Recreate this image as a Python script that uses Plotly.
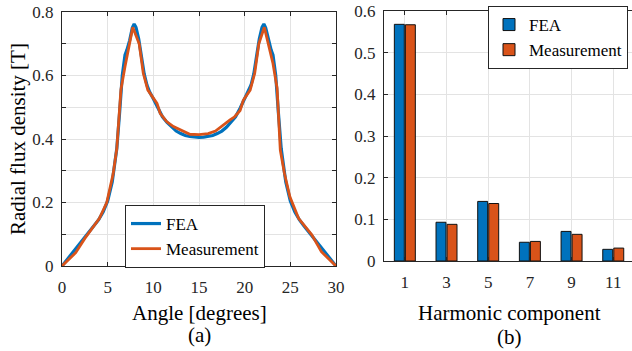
import plotly.graph_objects as go

# ---- Panel (a): radial flux density vs angle ----
fea_angle = [0, 0.5, 1.0, 1.5, 2.0, 2.5, 3.0, 3.5, 4.0, 4.5, 5.0, 5.5, 6.0, 6.3, 6.6, 6.9, 7.1, 7.4,
             7.7, 7.9, 8.1, 8.4, 8.7, 9.0, 9.3, 9.6, 10.0, 10.5, 11.0, 11.5, 12.0, 12.5, 13.0, 13.5,
             14.0, 14.5, 15.0, 15.5, 16.0, 16.5, 17.0, 17.5, 18.0, 18.5, 19.0, 19.5, 20.0, 20.4,
             20.7, 21.0, 21.3, 21.6, 21.9, 22.1, 22.3, 22.6, 22.9, 23.1, 23.4, 23.7, 24.0, 24.5,
             25.0, 25.5, 26.0, 26.5, 27.0, 27.5, 28.0, 28.5, 29.0, 29.5, 30.0]
fea_b = [0, 0.018, 0.036, 0.055, 0.075, 0.092, 0.108, 0.126, 0.145, 0.170, 0.205, 0.265, 0.370,
         0.480, 0.600, 0.665, 0.680, 0.710, 0.750, 0.762, 0.752, 0.715, 0.660, 0.605, 0.570, 0.548,
         0.527, 0.497, 0.470, 0.452, 0.437, 0.425, 0.417, 0.411, 0.408, 0.406, 0.405, 0.406, 0.408,
         0.411, 0.417, 0.425, 0.437, 0.452, 0.470, 0.497, 0.527, 0.548, 0.570, 0.605, 0.660, 0.715,
         0.752, 0.762, 0.750, 0.710, 0.680, 0.665, 0.600, 0.480, 0.370, 0.265, 0.205, 0.170, 0.145,
         0.126, 0.108, 0.092, 0.075, 0.055, 0.036, 0.018, 0]

meas_angle = [0, 1.5, 2.5, 4.1, 4.9, 5.6, 6.0, 6.2, 6.45, 6.9, 7.3, 7.75, 8.45, 8.9, 9.4, 10.0,
              10.4, 10.75, 11.45, 12.2, 13.3, 14.0, 15.0, 16.0, 16.8, 17.4, 18.4, 18.9, 19.5,
              19.85, 20.6, 21.1, 21.55, 22.15, 22.6, 23.1, 23.55, 23.75, 23.9, 24.35, 24.95, 25.9,
              27.35, 28.4, 30.0]
meas_b = [0, 0.042, 0.087, 0.150, 0.200, 0.290, 0.370, 0.440, 0.555, 0.628, 0.690, 0.752, 0.700,
          0.607, 0.554, 0.528, 0.512, 0.481, 0.455, 0.439, 0.423, 0.415, 0.414, 0.417, 0.425,
          0.439, 0.460, 0.470, 0.490, 0.522, 0.554, 0.607, 0.700, 0.752, 0.700, 0.638, 0.560,
          0.430, 0.365, 0.292, 0.218, 0.150, 0.098, 0.045, 0]

# ---- Panel (b): harmonic components ----
harmonics = [1, 3, 5, 7, 9, 11]
fea_harm = [0.568, 0.093, 0.143, 0.045, 0.071, 0.028]
meas_harm = [0.567, 0.088, 0.138, 0.047, 0.064, 0.031]

left_yticks = [0, 0.1, 0.2, 0.3, 0.4, 0.5, 0.6, 0.7, 0.8]
left_yticktext = ["0", "", "0.2", "", "0.4", "", "0.6", "", "0.8"]
left_xticks = [0, 5, 10, 15, 20, 25, 30]
right_yticks = [0, 0.1, 0.2, 0.3, 0.4, 0.5, 0.6]
right_yticktext = ["0", "0.1", "0.2", "0.3", "0.4", "0.5", "0.6"]

BLUE = "#0072BD"
ORANGE = "#D95319"
AX = "#262626"
GRID = "#e3e3e3"
FONT = "Liberation Serif, Times New Roman, DejaVu Serif, serif"
W, H = 632, 351

fig = go.Figure()
fig.add_trace(go.Scatter(x=fea_angle, y=fea_b, mode="lines", name="FEA",
                         line=dict(color=BLUE, width=3.2), xaxis="x", yaxis="y", legend="legend"))
fig.add_trace(go.Scatter(x=meas_angle, y=meas_b, mode="lines", name="Measurement",
                         line=dict(color=ORANGE, width=2.8), xaxis="x", yaxis="y", legend="legend"))
fig.add_trace(go.Bar(x=harmonics, y=fea_harm, name="FEA", marker=dict(color=BLUE, line=dict(color="#111111", width=1)),
                     xaxis="x2", yaxis="y2", legend="legend2"))
fig.add_trace(go.Bar(x=harmonics, y=meas_harm, name="Measurement", marker=dict(color=ORANGE, line=dict(color="#111111", width=1)),
                     xaxis="x2", yaxis="y2", legend="legend2"))

axcommon = dict(showline=True, linecolor=AX, linewidth=1, ticks="inside", ticklen=4, tickcolor=AX,
                showgrid=True, gridcolor=GRID, gridwidth=1, zeroline=False, automargin=False,
                tickfont=dict(family=FONT, size=17, color=AX))

TITLE_FONT = dict(family=FONT, size=21, color="black")

fig.update_layout(
    template="none",
    width=W, height=H, margin=dict(l=0, r=0, t=0, b=0, autoexpand=False),
    paper_bgcolor="white", plot_bgcolor="white",
    font=dict(family=FONT, size=17, color=AX),
    barmode="group", bargap=0.47, bargroupgap=0.1,
    xaxis=dict(domain=[62 / W, 336 / W], range=[0, 30], tickvals=left_xticks, mirror="ticks",
               anchor="y", ticklabelstandoff=6, **axcommon),
    yaxis=dict(domain=[(H - 266) / H, (H - 12) / H], range=[0, 0.8], tickvals=left_yticks,
               ticktext=left_yticktext, mirror="ticks", anchor="x", ticklabelstandoff=4, **axcommon),
    xaxis2=dict(domain=[384 / W, 1.0], range=[0, 11.9], tickvals=harmonics, mirror="ticks",
                anchor="y2", ticklabelstandoff=6, **axcommon),
    yaxis2=dict(domain=[(H - 261) / H, (H - 11) / H], range=[0, 0.6], tickvals=right_yticks,
                ticktext=right_yticktext, mirror=False, anchor="x2", ticklabelstandoff=4, **axcommon),
    legend=dict(x=125 / W, y=(H - 205) / H, xanchor="left", yanchor="top",
                bgcolor="white", bordercolor=AX, borderwidth=1,
                font=dict(family=FONT, size=17, color="black"), tracegroupgap=0),
    legend2=dict(x=628 / W, y=(H - 6) / H, xanchor="right", yanchor="top",
                 bgcolor="white", bordercolor=AX, borderwidth=1,
                 font=dict(family=FONT, size=17, color="black"), tracegroupgap=0),
    annotations=[
        dict(text="Angle [degrees]", x=199 / W, y=(H - 313) / H, xref="paper", yref="paper",
             showarrow=False, font=TITLE_FONT, xanchor="center", yanchor="middle"),
        dict(text="(a)", x=199 / W, y=(H - 335) / H, xref="paper", yref="paper",
             showarrow=False, font=TITLE_FONT, xanchor="center", yanchor="middle"),
        dict(text="Radial flux density [T]", x=18 / W, y=(H - 139) / H, xref="paper", yref="paper",
             showarrow=False, textangle=-90, font=TITLE_FONT, xanchor="center", yanchor="middle"),
        dict(text="Harmonic component", x=509 / W, y=(H - 313) / H, xref="paper", yref="paper",
             showarrow=False, font=TITLE_FONT, xanchor="center", yanchor="middle"),
        dict(text="(b)", x=509 / W, y=(H - 337) / H, xref="paper", yref="paper",
             showarrow=False, font=TITLE_FONT, xanchor="center", yanchor="middle"),
    ],
)

fig.write_html("out.html")
